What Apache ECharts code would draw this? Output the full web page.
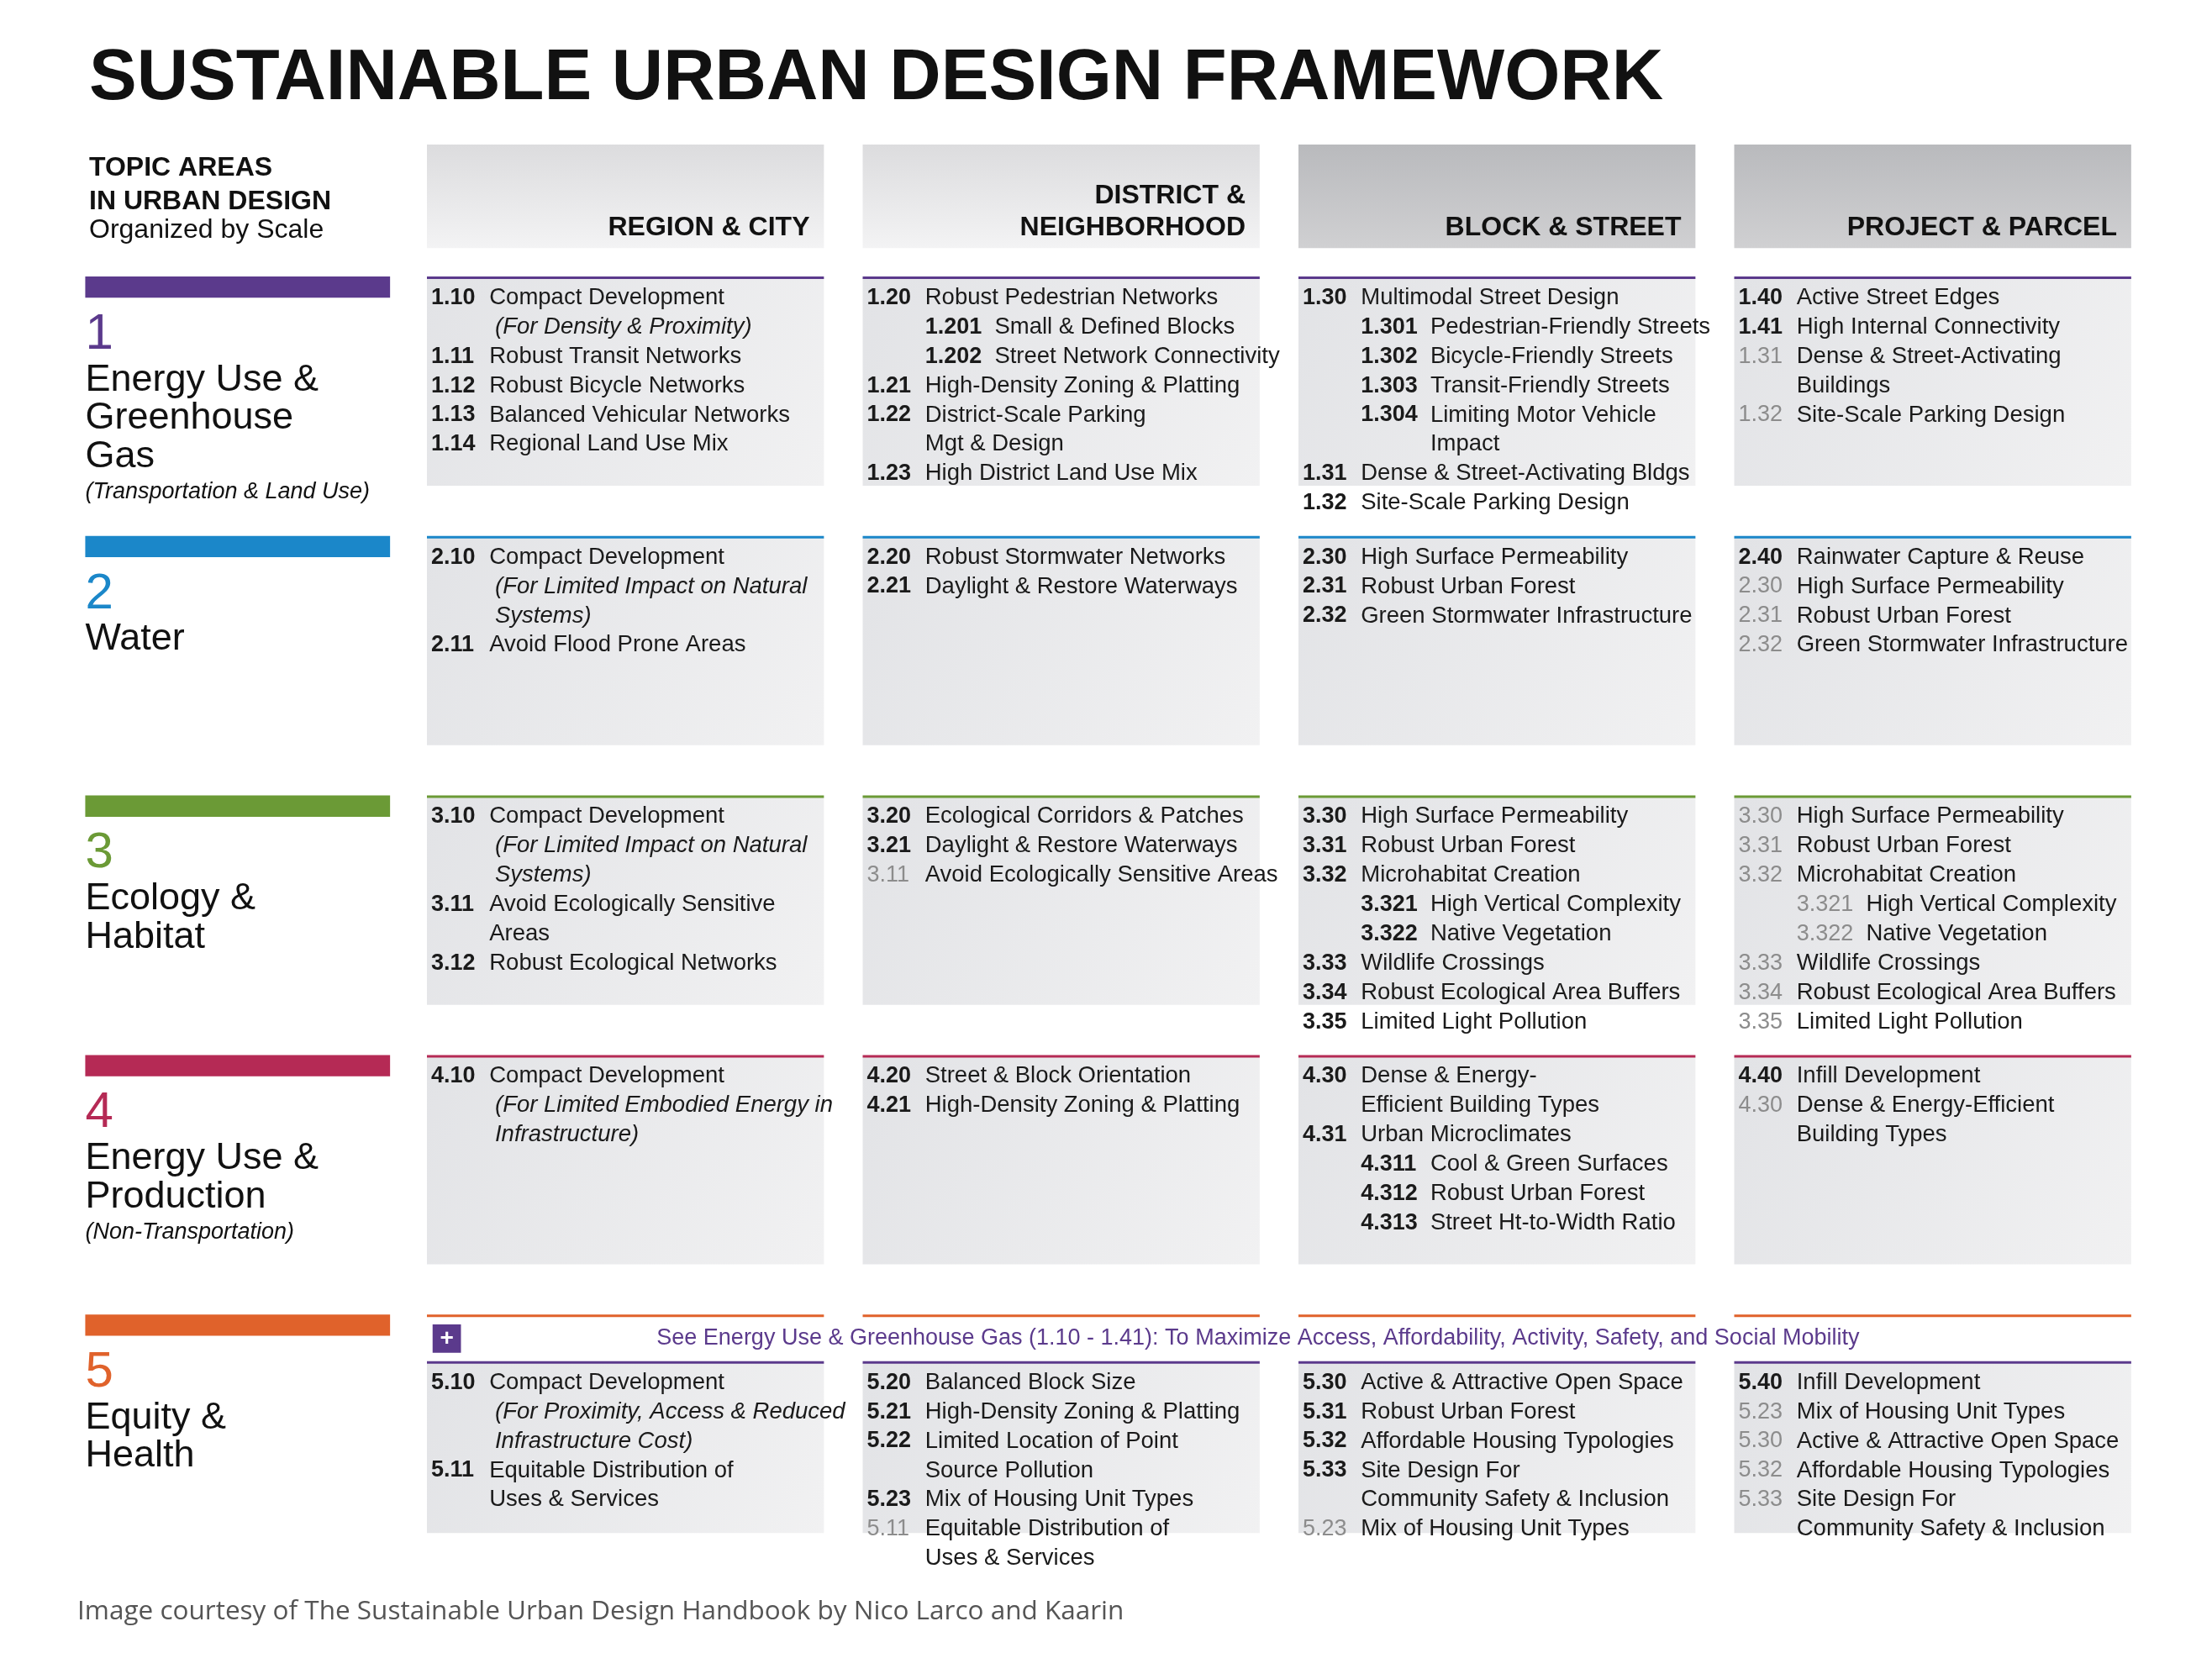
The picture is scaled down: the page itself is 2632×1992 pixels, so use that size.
<!DOCTYPE html>
<html>
<head>
<meta charset="utf-8">
<script src="https://cdn.jsdelivr.net/npm/echarts@6/dist/echarts.min.js"></script>
<style>html,body{margin:0;padding:0;background:#fff}#main{width:2632px;height:1992px}</style>
</head>
<body>
<div id="main"></div>
<script>
// scale names / topic areas
var scales = ['REGION & CITY', 'DISTRICT &\nNEIGHBORHOOD', 'BLOCK & STREET', 'PROJECT & PARCEL'];
var topicNums = ['1', '2', '3', '4', '5'];
var topicTitles = [['Energy Use &', 'Greenhouse', 'Gas'], ['Water'], ['Ecology &', 'Habitat'], ['Energy Use &', 'Production'], ['Equity &', 'Health']];
var topicNotes = ['(Transportation & Land Use)', '', '', '(Non-Transportation)', ''];
var topicColors = ['#5b3a8c', '#1b87c9', '#6b9a36', '#b52a55', '#e0622b'];
var bannerText = 'See Energy Use & Greenhouse Gas (1.10 - 1.41): To Maximize Access, Affordability, Activity, Safety, and Social Mobility';

// cell lines: [number, text, style]  style: '' main, i italic cont., c plain cont., s sub-item, g gray number
var row1 = [
  [['1.10','Compact Development'],['','(For Density & Proximity)','i'],['1.11','Robust Transit Networks'],['1.12','Robust Bicycle Networks'],['1.13','Balanced Vehicular Networks'],['1.14','Regional Land Use Mix']],
  [['1.20','Robust Pedestrian Networks'],['1.201','Small & Defined Blocks','s'],['1.202','Street Network Connectivity','s'],['1.21','High-Density Zoning & Platting'],['1.22','District-Scale Parking'],['','Mgt & Design','c'],['1.23','High District Land Use Mix']],
  [['1.30','Multimodal Street Design'],['1.301','Pedestrian-Friendly Streets','s'],['1.302','Bicycle-Friendly Streets','s'],['1.303','Transit-Friendly Streets','s'],['1.304','Limiting Motor Vehicle','s'],['','Impact','sc'],['1.31','Dense & Street-Activating Bldgs'],['1.32','Site-Scale Parking Design']],
  [['1.40','Active Street Edges'],['1.41','High Internal Connectivity'],['1.31','Dense & Street-Activating','g'],['','Buildings','c'],['1.32','Site-Scale Parking Design','g']]
];
var row2 = [
  [['2.10','Compact Development'],['','(For Limited Impact on Natural','i'],['','Systems)','i'],['2.11','Avoid Flood Prone Areas']],
  [['2.20','Robust Stormwater Networks'],['2.21','Daylight & Restore Waterways']],
  [['2.30','High Surface Permeability'],['2.31','Robust Urban Forest'],['2.32','Green Stormwater Infrastructure']],
  [['2.40','Rainwater Capture & Reuse'],['2.30','High Surface Permeability','g'],['2.31','Robust Urban Forest','g'],['2.32','Green Stormwater Infrastructure','g']]
];
var row3 = [
  [['3.10','Compact Development'],['','(For Limited Impact on Natural','i'],['','Systems)','i'],['3.11','Avoid Ecologically Sensitive'],['','Areas','c'],['3.12','Robust Ecological Networks']],
  [['3.20','Ecological Corridors & Patches'],['3.21','Daylight & Restore Waterways'],['3.11','Avoid Ecologically Sensitive Areas','g']],
  [['3.30','High Surface Permeability'],['3.31','Robust Urban Forest'],['3.32','Microhabitat Creation'],['3.321','High Vertical Complexity','s'],['3.322','Native Vegetation','s'],['3.33','Wildlife Crossings'],['3.34','Robust Ecological Area Buffers'],['3.35','Limited Light Pollution']],
  [['3.30','High Surface Permeability','g'],['3.31','Robust Urban Forest','g'],['3.32','Microhabitat Creation','g'],['3.321','High Vertical Complexity','gs'],['3.322','Native Vegetation','gs'],['3.33','Wildlife Crossings','g'],['3.34','Robust Ecological Area Buffers','g'],['3.35','Limited Light Pollution','g']]
];
var row4 = [
  [['4.10','Compact Development'],['','(For Limited Embodied Energy in','i'],['','Infrastructure)','i']],
  [['4.20','Street & Block Orientation'],['4.21','High-Density Zoning & Platting']],
  [['4.30','Dense & Energy-'],['','Efficient Building Types','c'],['4.31','Urban Microclimates'],['4.311','Cool & Green Surfaces','s'],['4.312','Robust Urban Forest','s'],['4.313','Street Ht-to-Width Ratio','s']],
  [['4.40','Infill Development'],['4.30','Dense & Energy-Efficient','g'],['','Building Types','c']]
];
var row5 = [
  [['5.10','Compact Development'],['','(For Proximity, Access & Reduced','i'],['','Infrastructure Cost)','i'],['5.11','Equitable Distribution of'],['','Uses & Services','c']],
  [['5.20','Balanced Block Size'],['5.21','High-Density Zoning & Platting'],['5.22','Limited Location of Point'],['','Source Pollution','c'],['5.23','Mix of Housing Unit Types'],['5.11','Equitable Distribution of','g'],['','Uses & Services','c']],
  [['5.30','Active & Attractive Open Space'],['5.31','Robust Urban Forest'],['5.32','Affordable Housing Typologies'],['5.33','Site Design For'],['','Community Safety & Inclusion','c'],['5.23','Mix of Housing Unit Types','g']],
  [['5.40','Infill Development'],['5.23','Mix of Housing Unit Types','g'],['5.30','Active & Attractive Open Space','g'],['5.32','Affordable Housing Typologies','g'],['5.33','Site Design For','g'],['','Community Safety & Inclusion','c']]
];
var rows = [row1, row2, row3, row4, row5];

var S = 1.687;
var FONT = '"Liberation Sans", Arial, sans-serif';
var cellData = [];
rows.forEach(function (r, ri) { r.forEach(function (c, ci) { cellData.push([ci, ri]); }); });
var topicData = topicNums.map(function (n, i) { return [0, i]; });
var headData = scales.map(function (s, i) { return [i, 0]; });

function renderCell(params, api) {
  var ci = api.value(0), ri = api.value(1);
  var c = api.coord([ci, ri]);
  var bw = api.size([1, 1])[0], bh = api.size([1, 1])[1];
  var x = c[0] - bw / 2, top = c[1] - bh / 2, w = 280 * S;
  var kids = [];
  var off = ri === 4 ? 33 * S : 0;
  kids.push({ type: 'rect', shape: { x: x, y: top + off + 2, width: w, height: (ri === 4 ? 120 : 0.8 * bh / S) * S },
    style: { fill: new echarts.graphic.LinearGradient(0, 0, 1, 1, [{ offset: 0, color: '#e2e3e6' }, { offset: 1, color: '#f1f1f2' }]) } });
  kids.push({ type: 'rect', shape: { x: x, y: top, width: w, height: 3 }, style: { fill: topicColors[ri] } });
  if (ri === 4) {
    kids.push({ type: 'rect', shape: { x: x, y: top + off, width: w, height: 3 }, style: { fill: '#5b3a8c' } });
    if (ci === 0) {
      kids.push({ type: 'rect', shape: { x: x + 4 * S, y: top + 7 * S, width: 20 * S, height: 20 * S }, style: { fill: '#5b3a8c' } });
      kids.push({ type: 'text', style: { x: x + 14 * S, y: top + 17 * S, text: '+', fill: '#fff', font: 'bold 28px ' + FONT, align: 'center', verticalAlign: 'middle' } });
      kids.push({ type: 'text', style: { x: x + 162 * S, y: top + 17 * S, text: bannerText, fill: '#5b3a8c', font: '27px ' + FONT, verticalAlign: 'middle' } });
    }
  }
  var lines = rows[ri][ci];
  lines.forEach(function (ln, k) {
    var y = top + off + 15 * S + k * 20.7 * S;
    var st = ln[2] || '';
    var sub = st.indexOf('s') >= 0;
    var gray = st.indexOf('g') >= 0;
    var numX = x + (sub ? 44 : 3) * S;
    var txtX = x + (sub ? 93 : 44) * S;
    if (st === 'i') txtX = x + 48 * S;
    if (ln[0]) kids.push({ type: 'text', style: { x: numX, y: y, text: ln[0], fill: gray ? '#8c8c8c' : '#1a1a1a',
      font: (gray ? '' : 'bold ') + '27px ' + FONT, verticalAlign: 'middle' } });
    kids.push({ type: 'text', style: { x: txtX, y: y, text: ln[1], fill: '#1a1a1a',
      font: (st === 'i' ? 'italic ' : '') + '27.5px ' + FONT, verticalAlign: 'middle' } });
  });
  return { type: 'group', children: kids };
}

function renderTopic(params, api) {
  var ri = api.value(1);
  var c = api.coord([0, ri]);
  var bw = api.size([1, 1])[0], bh = api.size([1, 1])[1];
  var x = c[0] - bw / 2 - 241 * S, top = c[1] - bh / 2;
  var kids = [{ type: 'rect', shape: { x: x, y: top, width: 215 * S, height: 15 * S }, style: { fill: topicColors[ri] } },
    { type: 'text', style: { x: x, y: top + 41 * S, text: topicNums[ri], fill: topicColors[ri], font: '60px ' + FONT, verticalAlign: 'middle' } }];
  topicTitles[ri].forEach(function (t, k) {
    kids.push({ type: 'text', style: { x: x, y: top + (73 + k * 27) * S, text: t, fill: '#111', font: '45px ' + FONT, verticalAlign: 'middle' } });
  });
  if (topicNotes[ri]) kids.push({ type: 'text', style: { x: x, y: top + (73 + topicTitles[ri].length * 27 - 2) * S, text: topicNotes[ri], fill: '#111', font: 'italic 27px ' + FONT, verticalAlign: 'middle' } });
  return { type: 'group', children: kids };
}

function renderHead(params, api) {
  var ci = api.value(0);
  var c = api.coord([ci, 0]);
  var bw = api.size([1, 1])[0], bh = api.size([1, 1])[1];
  var x = c[0] - bw / 2, top = c[1] - bh / 2, w = 280 * S;
  var dark = ci >= 2;
  return { type: 'group', children: [
    { type: 'rect', shape: { x: x, y: top - 93 * S, width: w, height: 73 * S },
      style: { fill: new echarts.graphic.LinearGradient(0, 0, 0, 1, [{ offset: 0, color: dark ? '#b9babd' : '#dcdcde' }, { offset: 1, color: dark ? '#d0d0d2' : '#f3f3f4' }]) } },
    { type: 'text', style: { x: x + w - 10 * S, y: top - 23 * S, text: scales[ci], fill: '#111', font: 'bold 32px ' + FONT,
      align: 'right', verticalAlign: 'bottom', lineHeight: 38 } }
  ] };
}

var chart = echarts.init(document.getElementById('main'));
chart.setOption({
  backgroundColor: '#fff',
  animation: false,
  grid: { left: 508, right: 50, top: 329, bottom: 119 },
  xAxis: { type: 'category', data: [0, 1, 2, 3], show: false },
  yAxis: { type: 'category', data: [0, 1, 2, 3, 4], inverse: true, show: false },
  graphic: [
    { type: 'text', left: 106, top: 52, style: { text: 'SUSTAINABLE URBAN DESIGN FRAMEWORK', font: 'bold 85px ' + FONT, fill: '#111' } },
    { type: 'text', left: 106, top: 180, style: { text: 'TOPIC AREAS\nIN URBAN DESIGN', font: 'bold 32px ' + FONT, fill: '#111', lineHeight: 40 } },
    { type: 'text', left: 106, top: 258, style: { text: 'Organized by Scale', font: '32px ' + FONT, fill: '#111' } },
    { type: 'text', left: 92, top: 1902, style: { text: 'Image courtesy of The Sustainable Urban Design Handbook by Nico Larco and Kaarin', font: '31.5px "Open Sans", sans-serif', fill: '#555' } }
  ],
  series: [
    { type: 'custom', renderItem: renderCell, data: cellData },
    { type: 'custom', renderItem: renderTopic, data: topicData },
    { type: 'custom', renderItem: renderHead, data: headData }
  ]
});
</script>
</body>
</html>
